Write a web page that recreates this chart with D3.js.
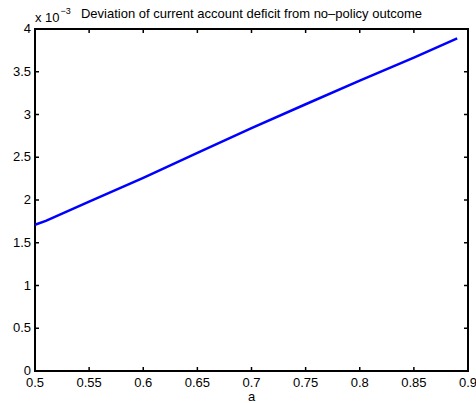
<!DOCTYPE html>
<html>
<head>
<meta charset="utf-8">
<script src="https://cdn.jsdelivr.net/npm/d3@7"></script>
<style>
  body { margin: 0; background: #fff; }
  text { font-family: "Liberation Sans", Arial, sans-serif; font-size: 13px; fill: #000; }
</style>
</head>
<body>
<svg id="chart"></svg>
<script>
// values in units of 1e-3
const aValues = [0.5, 0.51, 0.55, 0.6, 0.65, 0.7, 0.75, 0.8, 0.85, 0.89];
const deviation = [1.71, 1.755, 1.98, 2.26, 2.55, 2.84, 3.12, 3.395, 3.665, 3.89];
const xTicks = [0.5, 0.55, 0.6, 0.65, 0.7, 0.75, 0.8, 0.85, 0.9];
const yTicks = [0, 0.5, 1, 1.5, 2, 2.5, 3, 3.5, 4];

const width = 476, height = 403;
const plotL = 35, plotR = 468, plotT = 29, plotB = 371;

const x = d3.scaleLinear().domain([0.5, 0.9]).range([plotL, plotR]);
const y = d3.scaleLinear().domain([0, 4]).range([plotB, plotT]);

const svg = d3.select('#chart')
  .attr('width', width)
  .attr('height', height);

// ticks (inward, on all four sides)
const tickLen = 4;
const ticks = svg.append('g').attr('stroke', '#000').attr('stroke-width', 1.5);
xTicks.forEach(t => {
  ticks.append('line').attr('x1', x(t)).attr('x2', x(t)).attr('y1', plotB).attr('y2', plotB - tickLen);
  ticks.append('line').attr('x1', x(t)).attr('x2', x(t)).attr('y1', plotT).attr('y2', plotT + tickLen);
});
yTicks.forEach(t => {
  ticks.append('line').attr('x1', plotL).attr('x2', plotL + tickLen).attr('y1', y(t)).attr('y2', y(t));
  ticks.append('line').attr('x1', plotR).attr('x2', plotR - tickLen).attr('y1', y(t)).attr('y2', y(t));
});

// box
svg.append('rect')
  .attr('x', plotL).attr('y', plotT)
  .attr('width', plotR - plotL).attr('height', plotB - plotT)
  .attr('fill', 'none').attr('stroke', '#000').attr('stroke-width', 2);

// tick labels
svg.append('g').selectAll('text')
  .data(xTicks).enter().append('text')
  .attr('x', d => x(d))
  .attr('y', plotB + 16)
  .attr('text-anchor', 'middle')
  .text(d => d);

svg.append('g').selectAll('text')
  .data(yTicks).enter().append('text')
  .attr('x', plotL - 4)
  .attr('y', d => y(d) + 4)
  .attr('text-anchor', 'end')
  .text(d => d);

// line
const line = d3.line()
  .x((d, i) => x(aValues[i]))
  .y(d => y(d));

svg.append('path')
  .datum(deviation)
  .attr('d', line)
  .attr('fill', 'none')
  .attr('stroke', '#0000ff')
  .attr('stroke-width', 2.5);

// exponent label
const expo = svg.append('text').attr('x', plotL).attr('y', 22);
expo.append('tspan').text('x 10');
expo.append('tspan').attr('dx', 1).attr('dy', -8).attr('font-size', 9).text('\u22123');

// title
svg.append('text')
  .attr('x', (plotL + plotR) / 2)
  .attr('y', 18)
  .attr('text-anchor', 'middle')
  .text('Deviation of current account deficit from no\u2013policy outcome');

// x label
svg.append('text')
  .attr('x', (plotL + plotR) / 2)
  .attr('y', 401)
  .attr('text-anchor', 'middle')
  .text('a');
</script>
</body>
</html>
